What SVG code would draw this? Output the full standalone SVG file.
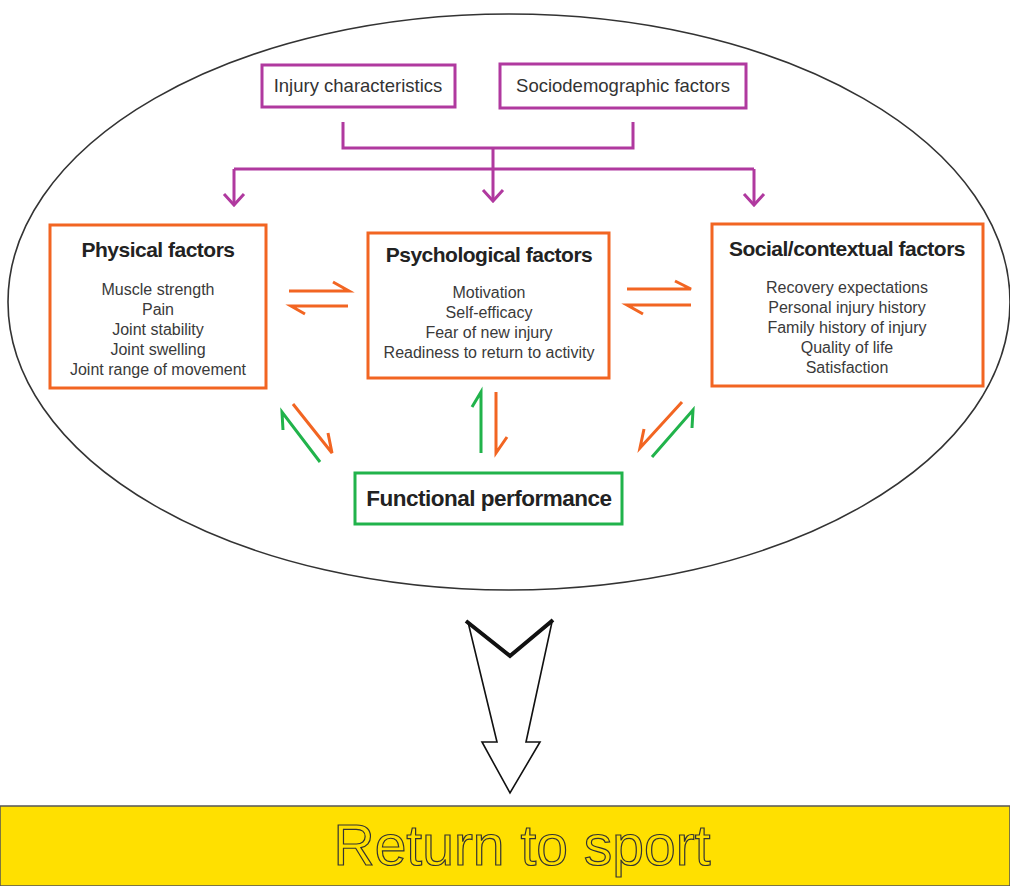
<svg xmlns="http://www.w3.org/2000/svg" width="1010" height="886" viewBox="0 0 1010 886">
<style>
.box{fill:#fff;stroke-width:3}
.pur{stroke:#b0399f;fill:none;stroke-width:3}
.org{stroke:#f26522;fill:none;stroke-width:3}
.grn{stroke:#21b34b;fill:none;stroke-width:3}
.t{font-family:"Liberation Sans",Arial,sans-serif;text-anchor:middle;fill:#333}
.title{font-weight:bold;font-size:21px;fill:#222;letter-spacing:-0.5px}
.item{font-size:16px;fill:#3a3a3a}
.top{font-size:18.5px;fill:#333}
.rts{font-size:57px;fill:#ffe000;stroke:#333;stroke-width:1.2}
</style>
<rect width="1010" height="886" fill="#fff"/>
<ellipse cx="509" cy="302" rx="501" ry="288" fill="none" stroke="#333" stroke-width="1.6"/>

<g id="connectors">
  <path class="pur" d="M343,122 V148 H633 V122 M493,148 V201 M234,169 H754 M234,169 V204 M754,169 V204"/>
  <path class="pur" d="M224,194 L234,205 L244,194 M483,190 L493,201 L503,190 M744,194 L754,205 L764,194"/>
  <path class="org" d="M289,291 H349 L333,282 M348,306 H291 L305,314"/>
  <path class="org" d="M627,289 H691 L675,281 M691,305 H627 L643,314"/>
  <path class="org" d="M293,404 L332,453 L328,433"/>
  <path class="grn" d="M320,462 L282,412 L283,430"/>
  <path class="grn" d="M481,453 V392 L472,407"/>
  <path class="org" d="M496,392 V453 L507,437"/>
  <path class="org" d="M682,402 L640,448 L644,429"/>
  <path class="grn" d="M652,457 L693,410 L692,428"/>
</g>

<g id="injury">
  <rect class="box" x="262" y="65" width="193" height="42" stroke="#b0399f"/>
  <text class="t top" x="358" y="92">Injury characteristics</text>
</g>
<g id="sociodemographic">
  <rect class="box" x="500" y="64" width="246" height="44" stroke="#b0399f"/>
  <text class="t top" x="623" y="92">Sociodemographic factors</text>
</g>

<g id="physical">
  <rect class="box" x="50" y="225" width="216" height="163" stroke="#f26522"/>
  <text class="t title" x="158" y="257">Physical factors</text>
  <text class="t item" x="158" y="295">Muscle strength</text>
  <text class="t item" x="158" y="315">Pain</text>
  <text class="t item" x="158" y="335">Joint stability</text>
  <text class="t item" x="158" y="355">Joint swelling</text>
  <text class="t item" x="158" y="375">Joint range of movement</text>
</g>

<g id="psychological">
  <rect class="box" x="368" y="233" width="241" height="145" stroke="#f26522" stroke-width="5"/>
  <text class="t title" x="489" y="262">Psychological factors</text>
  <text class="t item" x="489" y="298">Motivation</text>
  <text class="t item" x="489" y="318">Self-efficacy</text>
  <text class="t item" x="489" y="338">Fear of new injury</text>
  <text class="t item" x="489" y="358">Readiness to return to activity</text>
</g>

<g id="social">
  <rect class="box" x="712" y="224" width="271" height="162" stroke="#f26522"/>
  <text class="t title" x="847" y="256" font-size="22">Social/contextual factors</text>
  <text class="t item" x="847" y="293">Recovery expectations</text>
  <text class="t item" x="847" y="313">Personal injury history</text>
  <text class="t item" x="847" y="333">Family history of injury</text>
  <text class="t item" x="847" y="353">Quality of life</text>
  <text class="t item" x="847" y="373">Satisfaction</text>
</g>

<g id="functional">
  <rect class="box" x="355" y="473" width="267" height="51" stroke="#21b34b"/>
  <text class="t title" x="489" y="506" style="font-size:22.5px">Functional performance</text>
</g>

<g id="big-arrow">
  <path d="M468,622 L497,742 L482,742 L510,793 L540,742 L526,742 L552,622 L510,655 Z" fill="#fff" stroke="#111" stroke-width="1.6" stroke-linejoin="miter"/>
  <path d="M466,621 L510,656 L553,620" fill="none" stroke="#111" stroke-width="4"/>
</g>

<g id="return-to-sport">
  <rect x="0" y="806" width="1010" height="80" fill="#ffe000" stroke="#555" stroke-width="1.5"/>
  <text class="t rts" x="522" y="865">Return to sport</text>
</g>
</svg>
